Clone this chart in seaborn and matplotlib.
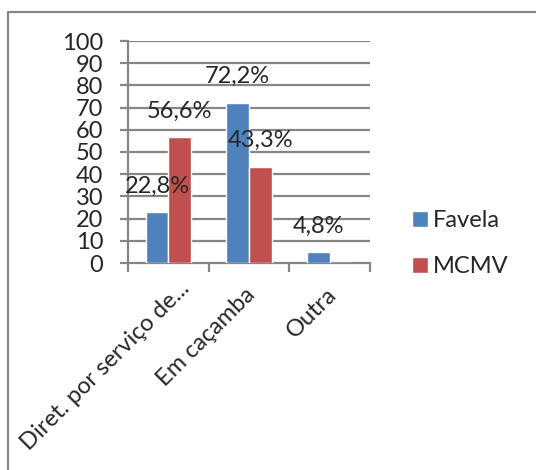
import matplotlib
matplotlib.use("Agg")
import matplotlib.pyplot as plt
import matplotlib.lines as mlines
import matplotlib.transforms as mtransforms
import pandas as pd
import seaborn as sns

# Destination of household waste, share of respondents (%)
categories = ["Diret. por serviço de...", "Em caçamba", "Outra"]
series_names = ["Favela", "MCMV"]
favela = [22.8, 72.2, 4.8]
mcmv = [56.6, 43.3, 0.0]
y_ticks = [0, 10, 20, 30, 40, 50, 60, 70, 80, 90, 100]

colors = ["#4F81BD", "#C0504D"]
grid_gray = "#868686"
FS = 17

sns.set_style("white")
plt.rcParams["font.family"] = ["Lato", "DejaVu Sans"]

df = pd.DataFrame({
    "categoria": categories * 2,
    "valor": favela + mcmv,
    "serie": [series_names[0]] * 3 + [series_names[1]] * 3,
})

W, H = 536, 470
fig = plt.figure(figsize=(W / 100, H / 100), dpi=100)
ax = fig.add_axes([128 / W, 1 - 263 / H, (370 - 128) / W, (263 - 41) / H])

sns.barplot(data=df, x="categoria", y="valor", hue="serie", order=categories,
            hue_order=series_names, palette=colors, saturation=1,
            width=0.56, gap=0, ax=ax, errorbar=None, zorder=3)

ax.set_xlim(-0.5, len(categories) - 0.5)
ax.set_ylim(0, 100)
ax.set_yticks(y_ticks)
ax.set_yticklabels([str(t) for t in y_ticks], fontsize=FS)
ax.set_xlabel("")
ax.set_ylabel("")

# horizontal gridlines
for t in y_ticks[1:]:
    ax.axhline(t, color=grid_gray, lw=1.6, zorder=1)

for side in ["top", "right"]:
    ax.spines[side].set_visible(False)
for side in ["left", "bottom"]:
    ax.spines[side].set_color(grid_gray)
    ax.spines[side].set_linewidth(1.6)

ax.tick_params(axis="y", direction="out", length=5.8, width=1.6,
               color=grid_gray, pad=12, left=True)
# category boundary ticks on x
ax.set_xticks([i - 0.5 for i in range(len(categories) + 1)], minor=True)
ax.tick_params(axis="x", which="minor", direction="out", length=6.5,
               width=1.6, color=grid_gray, bottom=True)
ax.tick_params(axis="x", which="major", length=0, pad=4)
ax.set_xticks(range(len(categories)))
ax.set_xticklabels(categories, fontsize=FS, rotation=45, ha="right",
                   va="center", rotation_mode="anchor")
# nudge the rotated labels (offsets in pixels)
label_shift = [(18, -16), (3, -23), (4, -23)]
for lab, (dx, dy) in zip(ax.get_xticklabels(), label_shift):
    lab.set_transform(lab.get_transform() +
                      mtransforms.ScaledTranslation(dx / 100, dy / 100, fig.dpi_scale_trans))

# value labels above the bars
for container in ax.containers:
    for bar in container:
        h = bar.get_height()
        if h > 0:
            ax.annotate(f"{h:.1f}".replace(".", ",") + "%",
                        (bar.get_x() + bar.get_width() / 2, h),
                        xytext=(0, 19), textcoords="offset points",
                        ha="center", va="center", fontsize=FS, zorder=5)

# legend on the right
handles, labels = ax.get_legend_handles_labels()
if ax.get_legend() is not None:
    ax.get_legend().remove()
fig.legend(handles, labels, loc="center left",
           bbox_to_anchor=(412 / W, 1 - 243.5 / H), bbox_transform=fig.transFigure,
           frameon=False, fontsize=FS, handlelength=0.68, handleheight=0.68,
           handletextpad=0.22, labelspacing=1.06, borderpad=0, borderaxespad=0)

# chart frame
frame = mlines.Line2D([8 / W, 8 / W, 1.01], [-0.01, 1 - 12 / H, 1 - 12 / H],
                      transform=fig.transFigure, color=grid_gray, lw=1.6)
fig.add_artist(frame)

fig.savefig("out.png", dpi=100)
